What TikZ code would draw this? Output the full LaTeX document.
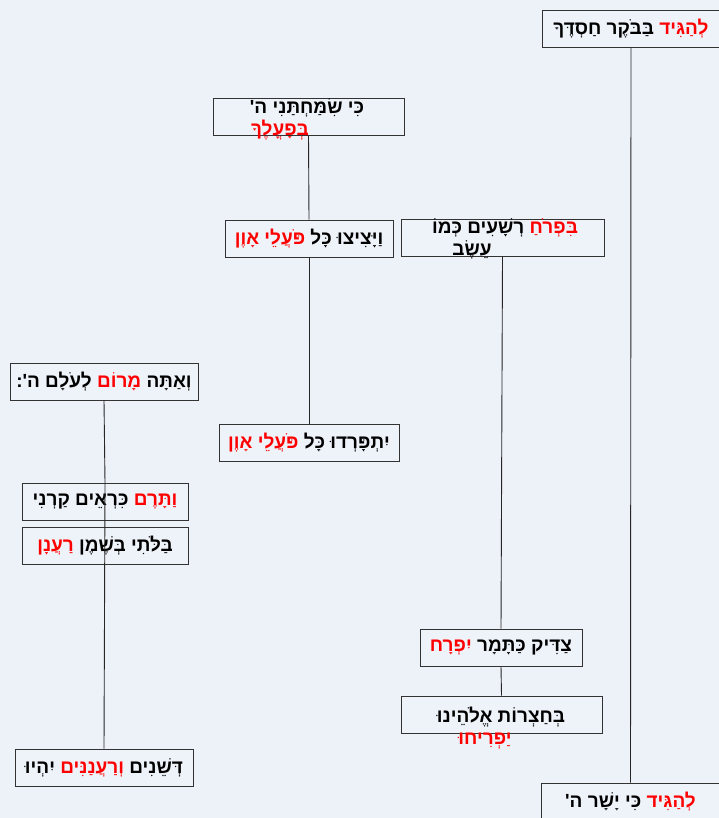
\documentclass[tikz,border=0pt]{standalone}
\usepackage{fontspec}
\TeXXeTstate=1
\newfontfamily\heb[Script=Hebrew]{Liberation Sans Bold}
\definecolor{bg}{HTML}{EDF1F8}
\definecolor{boxfill}{HTML}{EEF2F9}
\definecolor{edge}{HTML}{333333}
\definecolor{hred}{HTML}{FF0000}
\newcommand{\rw}[1]{\hbox{{\color{hred}\beginR #1\endR}}}
\newcommand{\bw}[1]{\hbox{{\color{black}\beginR #1\endR}}}
\begin{document}
\begin{tikzpicture}[x=1pt,y=-1pt,
  box/.style={draw=edge, fill=boxfill, line width=0.9pt, rectangle, inner sep=0pt, minimum height=37pt,
    font=\heb\fontsize{19}{22}\selectfont, text=black},
  txt/.style={inner sep=0pt, font=\heb\fontsize{19}{22}\selectfont, text=black},
  link/.style={draw=black!85, line width=0.9pt}]
\fill[bg] (0,0) rectangle (719,818);
\useasboundingbox (0,0) rectangle (719,818);

\node[box, minimum width=178pt] (b1) at (631,28.5) {\bw{בַּבֹּקֶר חַסְדֶּךָ} \rw{לְהַגִּיד}};
\node[box, minimum width=191pt] (b2) at (308.5,116.5) {};
\node[box, minimum width=168pt] (b3) at (309,238.5) {\rw{פֹּעֲלֵי אָוֶן} \bw{וַיָּצִיצוּ כָּל}};
\node[box, minimum width=203pt] (b4) at (502.5,237.5) {};
\node[box, minimum width=188pt] (b5) at (104,381.5) {\bw{לְעֹלָם ה':} \rw{מָרוֹם} \bw{וְאַתָּה}};
\node[box, minimum width=180pt] (b6) at (309,442.5) {\rw{פֹּעֲלֵי אָוֶן} \bw{יִתְפָּרְדוּ כָּל}};
\node[box, minimum width=166pt] (b7) at (105,501.5) {\bw{כִּרְאֵים קַרְנִי} \rw{וַתָּרֶם}};
\node[box, minimum width=166pt] (b8) at (105,545.5) {\rw{רַעֲנָן} \bw{בַּלֹּתִי בְּשֶׁמֶן}};
\node[box, minimum width=162pt] (b9) at (501,647.5) {\rw{יִפְרָח} \bw{צַדִּיק כַּתָּמָר}};
\node[box, minimum width=201pt] (b10) at (501.5,714.5) {};
\node[box, minimum width=178pt] (b11) at (104,767.5) {\bw{יִהְיוּ} \rw{וְרַעֲנַנִּים} \bw{דְּשֵׁנִים}};
\node[box, minimum width=179pt] (b12) at (630.5,801.5) {\bw{כִּי יָשָׁר ה'} \rw{לְהַגִּיד}};

\node[txt] (t2a) at (307,108) {\bw{כִּי שִׂמַּחְתַּנִי ה'}};
\node[txt] (t2b) at (280,130) {\rw{בְּפָעֳלֶךָ}};
\node[txt] (t4a) at (505,228) {\bw{רְשָׁעִים כְּמוֹ} \rw{בִּפְרֹחַ}};
\node[txt] (t4b) at (472,250) {\bw{עֵשֶׂב}};
\node[txt] (t10a) at (501,717) {\bw{בְּחַצְרוֹת אֱלֹהֵינוּ}};
\node[txt] (t10b) at (485,741) {\rw{יַפְרִיחוּ}};

\draw[link] (b1.south) -- (b12.north);
\draw[link] (b2.south) -- (b3.north);
\draw[link] (b3.south) -- (b6.north);
\draw[link] (b4.south) -- (b9.north);
\draw[link] (b9.south) -- (b10.north);
\draw[link] (b5.south) -- (b7.north);
\draw[link] (b7.north) -- (b11.north);
\end{tikzpicture}
\end{document}
